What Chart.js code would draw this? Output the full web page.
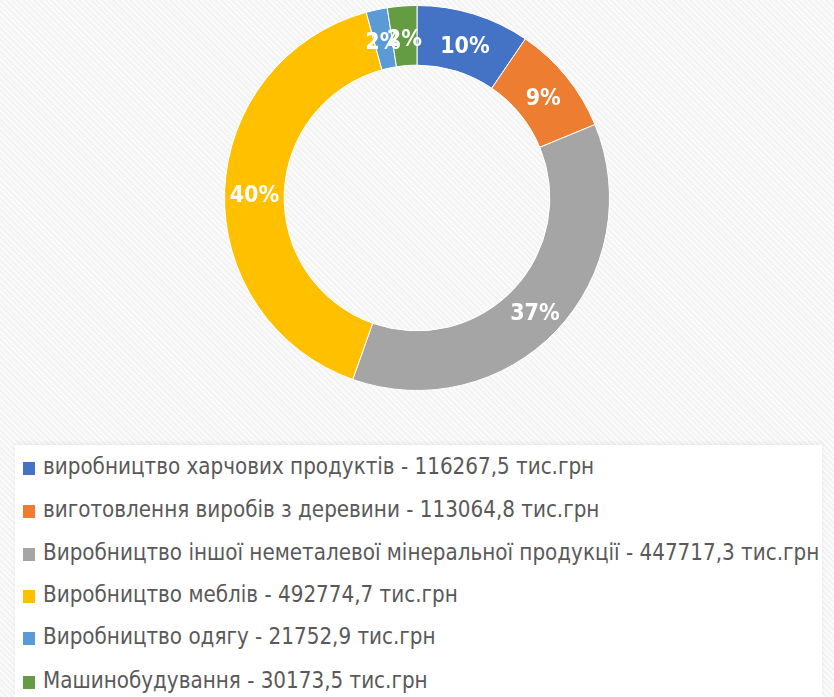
<!DOCTYPE html>
<html>
<head>
<meta charset="utf-8">
<script src="https://cdn.jsdelivr.net/npm/chart.js@4/dist/chart.umd.min.js"></script>
<style>
  html, body { margin: 0; padding: 0; }
  body {
    width: 834px; height: 697px; overflow: hidden; position: relative;
    background: repeating-linear-gradient(45deg, #f3f3f3 0px, #f3f3f3 2px, #fbfbfb 2px, #fbfbfb 4px);
  }
  #chartBox { position: absolute; left: 0; top: 0; width: 834px; height: 400px; }
  #legend {
    position: absolute; left: 15px; top: 445px; width: 807px; height: 252px;
    background: #fff; box-shadow: 0 -2px 4px rgba(0,0,0,0.06);
  }
  .item {
    position: absolute; left: 8px; height: 26px; line-height: 26px;
    font-family: "Liberation Sans Narrow", "DejaVu Sans Condensed", sans-serif;
    font-size: 22.2px; color: #595959; white-space: nowrap;
  }
  .item span.box { display: inline-block; width: 12px; height: 13px; margin-right: 8px; vertical-align: -1px; }
</style>
</head>
<body>
<div id="chartBox"><canvas id="chart"></canvas></div>
<div id="legend"></div>
<script>
const labels = [
    "виробництво харчових продуктів - 116267,5 тис.грн",
    "виготовлення виробів з деревини - 113064,8 тис.грн",
    "Виробництво іншої неметалевої мінеральної продукції - 447717,3 тис.грн",
    "Виробництво меблів - 492774,7 тис.грн",
    "Виробництво одягу - 21752,9 тис.грн",
    "Машинобудування - 30173,5 тис.грн"
];
const values = [116267.5, 113064.8, 447717.3, 492774.7, 21752.9, 30173.5];
const colors = ['#4472C4', '#ED7D31', '#A5A5A5', '#FFC000', '#5B9BD5', '#639C43'];

// percent labels on the ring
const pctLabels = {
    id: 'pctLabels',
    afterDatasetsDraw(chart) {
        const ctx = chart.ctx;
        const meta = chart.getDatasetMeta(0);
        const total = values.reduce((a, b) => a + b, 0);
        ctx.save();
        ctx.fillStyle = '#fff';
        ctx.font = 'bold 23px "Liberation Sans Narrow", "DejaVu Sans Condensed", sans-serif';
        ctx.textAlign = 'center';
        ctx.textBaseline = 'middle';
        meta.data.forEach((arc, i) => {
            const p = arc.tooltipPosition();
            ctx.fillText(Math.round(values[i] / total * 100) + '%', p.x, p.y + 4);
        });
        ctx.restore();
    }
};

new Chart(document.getElementById('chart'), {
    type: 'doughnut',
    data: {
        labels: labels,
        datasets: [{
            data: values,
            backgroundColor: colors,
            borderColor: '#ffffff',
            borderWidth: 1
        }]
    },
    options: {
        responsive: true,
        maintainAspectRatio: false,
        animation: false,
        cutout: '69%',
        layout: { padding: { top: 5, bottom: 9 } },
        plugins: {
            legend: { display: false },
            tooltip: { enabled: false }
        }
    },
    plugins: [pctLabels]
});

const legend = document.getElementById('legend');
const rowY = [8, 51, 94, 136, 178, 222];
labels.forEach((text, i) => {
    const div = document.createElement('div');
    div.className = 'item';
    div.style.top = rowY[i] + 'px';
    const box = document.createElement('span');
    box.className = 'box';
    box.style.background = colors[i];
    div.appendChild(box);
    div.appendChild(document.createTextNode(text));
    legend.appendChild(div);
});
</script>
</body>
</html>
